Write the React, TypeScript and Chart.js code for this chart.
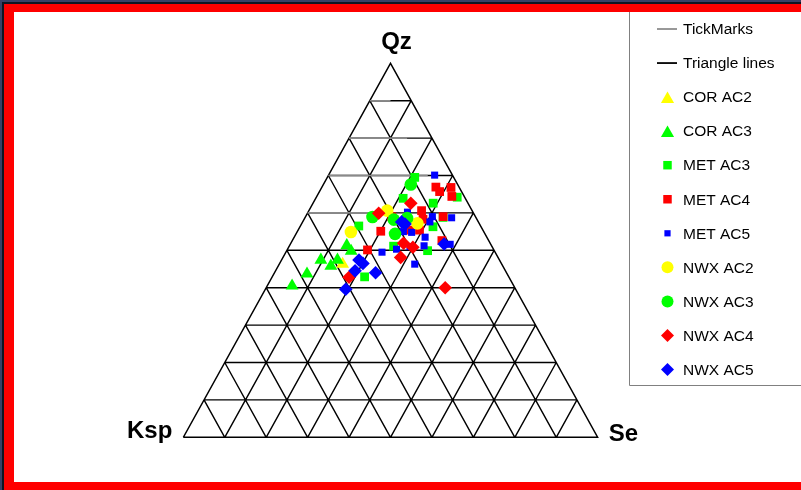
import React, { useEffect, useRef } from "react";
import { Chart, registerables } from "chart.js";

Chart.register(...registerables);

// Each sample is [Qz, Ksp, Se] in percent.
const COR_AC2 = [[46.3, 38.4, 15.3]];
const COR_AC3 = [
  [40.5, 53.5, 6.0],
  [43.7, 48.3, 8.0],
  [47.4, 43.1, 9.5],
  [45.8, 41.5, 12.7],
  [47.4, 39.1, 13.5],
  [51.3, 34.9, 13.8],
  [49.8, 34.6, 15.6],
];
const MET_AC3 = [
  [69.5, 9.4, 21.1],
  [63.9, 15.0, 21.1],
  [62.6, 8.4, 29.0],
  [64.2, 1.8, 34.0],
  [58.8, 7.9, 33.3],
  [56.3, 11.6, 32.1],
  [49.9, 16.1, 34.0],
  [51.1, 23.7, 25.2],
  [56.5, 29.4, 14.1],
  [42.9, 34.8, 22.3],
];
const MET_AC4 = [
  [66.9, 5.6, 27.5],
  [65.7, 5.3, 29.0],
  [66.8, 2.0, 31.2],
  [64.4, 3.0, 32.6],
  [60.6, 12.2, 27.2],
  [59.0, 7.8, 33.2],
  [59.0, 20.2, 20.8],
  [58.3, 13.0, 28.7],
  [55.1, 24.8, 20.1],
  [50.1, 30.5, 19.4],
  [55.4, 15.3, 29.3],
  [55.4, 17.6, 27.0],
  [52.6, 11.3, 36.1],
];
const MET_AC5 = [
  [70.1, 4.3, 25.6],
  [58.7, 5.9, 35.4],
  [59.0, 10.4, 30.6],
  [60.2, 15.8, 24.0],
  [57.6, 11.7, 30.7],
  [54.8, 17.5, 27.7],
  [55.0, 19.4, 25.6],
  [53.5, 14.9, 31.6],
  [51.2, 16.3, 32.5],
  [51.0, 19.8, 29.2],
  [50.3, 23.4, 26.3],
  [49.5, 27.3, 23.2],
  [46.3, 21.0, 32.7],
  [51.6, 9.8, 38.6],
];
const NWX_AC2 = [
  [54.9, 32.1, 13.0],
  [60.6, 20.5, 18.9],
  [57.2, 14.9, 27.9],
];
const NWX_AC3 = [
  [67.6, 11.3, 21.1],
  [58.9, 24.9, 16.2],
  [58.2, 20.1, 21.7],
  [54.4, 21.7, 23.9],
  [58.6, 16.7, 24.7],
];
const NWX_AC4 = [
  [59.9, 22.9, 17.2],
  [62.6, 13.8, 23.6],
  [51.9, 20.9, 27.2],
  [50.8, 19.2, 30.0],
  [48.1, 23.5, 28.4],
  [42.8, 38.6, 18.6],
  [40.0, 16.8, 43.2],
];
const NWX_AC5 = [
  [57.6, 18.5, 23.9],
  [57.0, 18.0, 25.0],
  [51.7, 11.2, 37.1],
  [47.4, 33.9, 18.7],
  [46.5, 33.4, 20.1],
  [44.5, 36.3, 19.2],
  [44.0, 31.6, 24.4],
  [39.6, 41.0, 19.4],
];

// Grid divisions (percent) for the three families of triangle lines.
const GRID_TICKS = [10, 20, 30, 40, 50, 60, 70, 80, 90];
// Qz levels that carry a grey tick bar from the Ksp edge, with the Se% where each bar ends.
const TICK_QZ = [90, 80, 70, 60];
const TICK_END_SE = [5, 14, 24, 20];

const CORNER_LABELS = { top: "Qz", left: "Ksp", right: "Se" };

type Pt = { x: number; y: number };

// Ternary (Qz, Ksp, Se) -> cartesian on a 0..100 box: Ksp corner left, Se corner right, Qz top.
const toXY = (qz: number, se: number): Pt => ({ x: se + qz / 2, y: qz });
const GAP: Pt = { x: NaN, y: NaN };

function triangleLines(): Pt[] {
  const pts: Pt[] = [toXY(0, 0), toXY(0, 100), toXY(100, 0), toXY(0, 0), GAP];
  for (const t of GRID_TICKS) {
    // constant Qz
    pts.push(toXY(t, 0), toXY(t, 100 - t), GAP);
    // constant Se
    pts.push(toXY(0, t), toXY(100 - t, t), GAP);
    // constant Ksp
    pts.push(toXY(0, 100 - t), toXY(100 - t, 0), GAP);
  }
  return pts;
}

function tickMarks(): Pt[] {
  const pts: Pt[] = [];
  TICK_QZ.forEach((q, i) => {
    pts.push(toXY(q, 0), toXY(q, TICK_END_SE[i]), GAP);
  });
  return pts;
}

const toPoints = (rows: number[][]): Pt[] => rows.map(([qz, , se]) => toXY(qz, se));

type Shape = "triangle" | "rect" | "circle" | "rectRot";

type SeriesDef = {
  label: string;
  rows: number[][];
  color: string;
  style: Shape;
  radius: number;
  keyRadius: number;
};

const SERIES: SeriesDef[] = [
  { label: "COR AC2", rows: COR_AC2, color: "#ffff00", style: "triangle", radius: 7.4, keyRadius: 7.6 },
  { label: "COR AC3", rows: COR_AC3, color: "#00ff00", style: "triangle", radius: 7.4, keyRadius: 7.6 },
  { label: "MET AC3", rows: MET_AC3, color: "#00ff00", style: "rect", radius: 6.2, keyRadius: 6 },
  { label: "MET AC4", rows: MET_AC4, color: "#ff0000", style: "rect", radius: 6.2, keyRadius: 6 },
  { label: "MET AC5", rows: MET_AC5, color: "#0000ff", style: "rect", radius: 5, keyRadius: 4.4 },
  { label: "NWX AC2", rows: NWX_AC2, color: "#ffff00", style: "circle", radius: 6.3, keyRadius: 6 },
  { label: "NWX AC3", rows: NWX_AC3, color: "#00ff00", style: "circle", radius: 6.3, keyRadius: 6 },
  { label: "NWX AC4", rows: NWX_AC4, color: "#ff0000", style: "rectRot", radius: 6.8, keyRadius: 6.5 },
  { label: "NWX AC5", rows: NWX_AC5, color: "#0000ff", style: "rectRot", radius: 6.8, keyRadius: 6.5 },
];

const FONT = '"Liberation Sans", Arial, sans-serif';

// Legend swatch shapes, built the same way as the point styles in the plot.
function shapePath(ctx: CanvasRenderingContext2D, shape: Shape, x: number, y: number, r: number) {
  ctx.beginPath();
  if (shape === "circle") {
    ctx.arc(x, y, r, 0, Math.PI * 2);
  } else if (shape === "rect") {
    const s = Math.SQRT1_2 * r;
    ctx.rect(x - s, y - s, 2 * s, 2 * s);
  } else if (shape === "rectRot") {
    ctx.moveTo(x, y - r);
    ctx.lineTo(x + r, y);
    ctx.lineTo(x, y + r);
    ctx.lineTo(x - r, y);
    ctx.closePath();
  } else {
    for (let k = 0; k < 3; k++) {
      const a = (k * 2 * Math.PI) / 3;
      const px = x + Math.sin(a) * r;
      const py = y - Math.cos(a) * r;
      if (k === 0) ctx.moveTo(px, py);
      else ctx.lineTo(px, py);
    }
    ctx.closePath();
  }
}

const ternaryDecor = {
  id: "ternaryDecor",
  afterDraw(chart: any) {
    const ctx = chart.ctx as CanvasRenderingContext2D;
    const { chartArea } = chart;
    ctx.save();
    // corner labels
    ctx.fillStyle = "#000";
    ctx.font = `bold 24px ${FONT}`;
    ctx.textBaseline = "alphabetic";
    ctx.textAlign = "center";
    ctx.fillText(CORNER_LABELS.top, (chartArea.left + chartArea.right) / 2 + 6, chartArea.top - 14);
    ctx.textAlign = "right";
    ctx.fillText(CORNER_LABELS.left, chartArea.left - 11, chartArea.bottom + 1);
    ctx.textAlign = "left";
    ctx.fillText(CORNER_LABELS.right, chartArea.right + 11, chartArea.bottom + 4);

    // legend box
    const bx = 629.5;
    ctx.strokeStyle = "#808080";
    ctx.lineWidth = 1;
    ctx.beginPath();
    ctx.moveTo(bx, 0);
    ctx.lineTo(bx, 385.5);
    ctx.lineTo(820, 385.5);
    ctx.stroke();

    const items = chart.data.datasets;
    const markerX = 667.5;
    const textX = 683;
    let y = 29;
    ctx.font = `15.5px ${FONT}`;
    ctx.textAlign = "left";
    ctx.textBaseline = "middle";
    for (const ds of items) {
      if (ds.showLine) {
        ctx.strokeStyle = ds.legendStroke;
        ctx.lineWidth = ds.legendWidth;
        ctx.beginPath();
        ctx.moveTo(657, y);
        ctx.lineTo(677, y);
        ctx.stroke();
      } else {
        ctx.fillStyle = ds.backgroundColor;
        shapePath(ctx, ds.pointStyle, markerX, y + (ds.pointStyle === "triangle" ? 2 : 0), ds.legendRadius);
        ctx.fill();
      }
      ctx.fillStyle = "#000";
      ctx.fillText(ds.label, textX, y + 1);
      y += 34.05;
    }
    ctx.restore();
  },
};

export default function App() {
  const canvasRef = useRef<HTMLCanvasElement | null>(null);

  useEffect(() => {
    if (!canvasRef.current) return;
    const datasets: any[] = [
      {
        label: "TickMarks",
        data: tickMarks(),
        showLine: true,
        borderColor: "#8a8a8a",
        borderWidth: 1.6,
        pointRadius: 0,
        spanGaps: false,
        order: 98,
        clip: false,
        legendStroke: "#333",
        legendWidth: 1,
      },
      {
        label: "Triangle lines",
        data: triangleLines(),
        showLine: true,
        borderColor: "#000",
        borderWidth: 1.4,
        pointRadius: 0,
        spanGaps: false,
        order: 99,
        clip: false,
        legendStroke: "#000",
        legendWidth: 1.8,
      },
      ...SERIES.map((s, i) => ({
        label: s.label,
        data: toPoints(s.rows),
        showLine: false,
        pointStyle: s.style,
        pointRadius: s.radius,
        pointBackgroundColor: s.color,
        backgroundColor: s.color,
        pointBorderWidth: 0,
        pointBorderColor: s.color,
        order: 50 - i,
        clip: false,
        legendRadius: s.keyRadius,
      })),
    ];

    const chart = new Chart(canvasRef.current, {
      type: "scatter",
      data: { datasets },
      options: {
        animation: false,
        responsive: false,
        events: [],
        layout: { padding: { left: 183.3, right: 203.3, top: 63.3, bottom: 52.7 } },
        scales: {
          x: { type: "linear", min: 0, max: 100, display: false },
          y: { type: "linear", min: 0, max: 100, display: false },
        },
        plugins: { legend: { display: false }, tooltip: { enabled: false } },
      },
      plugins: [ternaryDecor],
    });
    return () => chart.destroy();
  }, []);

  return (
    <div style={{ position: "fixed", left: 0, top: 0, width: 801, height: 490, background: "#fff", overflow: "hidden" }}>
      <canvas ref={canvasRef} width={801} height={490} style={{ position: "absolute", left: 0, top: 0, width: 801, height: 490 }} />
      <div
        style={{
          position: "absolute",
          left: 0,
          top: 0,
          width: 801,
          height: 490,
          boxSizing: "border-box",
          borderLeft: "14px solid #ff0000",
          borderTop: "12px solid #ff0000",
          borderBottom: "8px solid #ff0000",
          pointerEvents: "none",
        }}
      />
      <div
        style={{
          position: "absolute",
          left: 0,
          top: 0,
          width: 801,
          height: 490,
          boxSizing: "border-box",
          borderLeft: "2px solid #3a4166",
          borderTop: "2px solid #3a4166",
          pointerEvents: "none",
        }}
      />
      <div
        style={{
          position: "absolute",
          left: 2,
          top: 2,
          width: 799,
          height: 488,
          boxSizing: "border-box",
          borderLeft: "2px solid #111522",
          borderTop: "2px solid #111522",
          pointerEvents: "none",
        }}
      />
    </div>
  );
}
